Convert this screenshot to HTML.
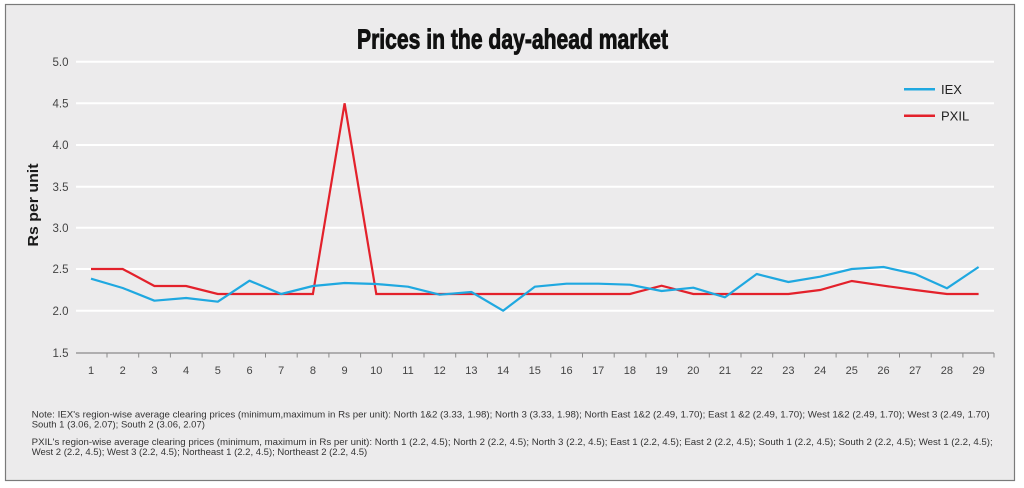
<!DOCTYPE html>
<html><head><meta charset="utf-8"><style>
html,body{margin:0;padding:0;background:#fff;}
svg{display:block;}
</style></head><body>
<svg width="1024" height="488" viewBox="0 0 1024 488" xmlns="http://www.w3.org/2000/svg" font-family="'Liberation Sans', Arial, sans-serif">
<rect x="0" y="0" width="1024" height="488" fill="#ffffff"/>
<rect x="5.5" y="4.5" width="1009" height="476" fill="#ecebec" stroke="#7a7a7a" stroke-width="1.2"/>
<text x="512.5" y="48.3" text-anchor="middle" font-family="'Liberation Sans Narrow','Liberation Sans',sans-serif" font-weight="bold" font-size="28" fill="#111" stroke="#111" stroke-width="0.9" textLength="311" lengthAdjust="spacingAndGlyphs">Prices in the day-ahead market</text>
<g stroke="#ffffff" stroke-width="2">
<line x1="76" y1="61.7" x2="994" y2="61.7"/>
<line x1="76" y1="103.3" x2="994" y2="103.3"/>
<line x1="76" y1="145" x2="994" y2="145"/>
<line x1="76" y1="186.7" x2="994" y2="186.7"/>
<line x1="76" y1="227.8" x2="994" y2="227.8"/>
<line x1="76" y1="269" x2="994" y2="269"/>
<line x1="76" y1="310.7" x2="994" y2="310.7"/>
</g>
<g font-size="11.5" fill="#444" text-anchor="end">
<text x="68.5" y="66">5.0</text>
<text x="68.5" y="107.5">4.5</text>
<text x="68.5" y="149.2">4.0</text>
<text x="68.5" y="190.9">3.5</text>
<text x="68.5" y="232">3.0</text>
<text x="68.5" y="273.2">2.5</text>
<text x="68.5" y="314.9">2.0</text>
<text x="68.5" y="356.9">1.5</text>
</g>
<text transform="translate(37.8,205) rotate(-90)" text-anchor="middle" font-weight="bold" font-size="15" fill="#1a1a1a" textLength="83" lengthAdjust="spacingAndGlyphs">Rs per unit</text>
<line x1="76" y1="353" x2="994" y2="353" stroke="#8a8a8a" stroke-width="1.2"/>
<g stroke="#8a8a8a" stroke-width="1">
<line x1="107" y1="353" x2="107" y2="357.5"/><line x1="138.7" y1="353" x2="138.7" y2="357.5"/><line x1="170.4" y1="353" x2="170.4" y2="357.5"/><line x1="202.1" y1="353" x2="202.1" y2="357.5"/><line x1="233.8" y1="353" x2="233.8" y2="357.5"/><line x1="265.5" y1="353" x2="265.5" y2="357.5"/><line x1="297.2" y1="353" x2="297.2" y2="357.5"/><line x1="328.9" y1="353" x2="328.9" y2="357.5"/><line x1="360.6" y1="353" x2="360.6" y2="357.5"/><line x1="392.3" y1="353" x2="392.3" y2="357.5"/><line x1="424" y1="353" x2="424" y2="357.5"/><line x1="455.7" y1="353" x2="455.7" y2="357.5"/><line x1="487.4" y1="353" x2="487.4" y2="357.5"/><line x1="519.1" y1="353" x2="519.1" y2="357.5"/><line x1="550.8" y1="353" x2="550.8" y2="357.5"/><line x1="582.5" y1="353" x2="582.5" y2="357.5"/><line x1="614.2" y1="353" x2="614.2" y2="357.5"/><line x1="645.9" y1="353" x2="645.9" y2="357.5"/><line x1="677.6" y1="353" x2="677.6" y2="357.5"/><line x1="709.3" y1="353" x2="709.3" y2="357.5"/><line x1="741" y1="353" x2="741" y2="357.5"/><line x1="772.7" y1="353" x2="772.7" y2="357.5"/><line x1="804.4" y1="353" x2="804.4" y2="357.5"/><line x1="836.1" y1="353" x2="836.1" y2="357.5"/><line x1="867.8" y1="353" x2="867.8" y2="357.5"/><line x1="899.5" y1="353" x2="899.5" y2="357.5"/><line x1="931.2" y1="353" x2="931.2" y2="357.5"/><line x1="962.9" y1="353" x2="962.9" y2="357.5"/><line x1="994" y1="353" x2="994" y2="357.5"/>
</g>
<g font-size="11" fill="#444" text-anchor="middle">
<text x="91" y="374">1</text><text x="122.7" y="374">2</text><text x="154.4" y="374">3</text><text x="186.1" y="374">4</text><text x="217.8" y="374">5</text><text x="249.5" y="374">6</text><text x="281.2" y="374">7</text><text x="312.9" y="374">8</text><text x="344.6" y="374">9</text><text x="376.3" y="374">10</text><text x="408" y="374">11</text><text x="439.7" y="374">12</text><text x="471.4" y="374">13</text><text x="503.1" y="374">14</text><text x="534.8" y="374">15</text><text x="566.5" y="374">16</text><text x="598.2" y="374">17</text><text x="629.9" y="374">18</text><text x="661.6" y="374">19</text><text x="693.3" y="374">20</text><text x="725" y="374">21</text><text x="756.7" y="374">22</text><text x="788.4" y="374">23</text><text x="820.1" y="374">24</text><text x="851.8" y="374">25</text><text x="883.5" y="374">26</text><text x="915.2" y="374">27</text><text x="946.9" y="374">28</text><text x="978.6" y="374">29</text>
</g>
<polyline fill="none" stroke="#e3212b" stroke-width="2.2" stroke-linejoin="miter" points="91,269 122.7,269 154.4,286 186.1,286 217.8,294 249.5,294 281.2,294 312.9,294 344.6,103.3 376.3,294 408,294 439.7,294 471.4,294 503.1,294 534.8,294 566.5,294 598.2,294 629.9,294 661.6,285.7 693.3,294 725,294 756.7,294 788.4,294 820.1,290 851.8,281 883.5,285.7 915.2,290 946.9,294 978.6,294"/>
<polyline fill="none" stroke="#1fa8e0" stroke-width="2.2" stroke-linejoin="round" points="91,278.7 122.7,288 154.4,300.7 186.1,298 217.8,301.7 249.5,280.7 281.2,294 312.9,286 344.6,283 376.3,284 408,286.7 439.7,294.7 471.4,292 503.1,310.7 534.8,286.7 566.5,283.7 598.2,283.7 629.9,284.7 661.6,291 693.3,287.7 725,297.3 756.7,274 788.4,282 820.1,276.7 851.8,269 883.5,267 915.2,274 946.9,288.3 978.6,267"/>
<line x1="904" y1="89.3" x2="935" y2="89.3" stroke="#1fa8e0" stroke-width="2.5"/>
<text x="941" y="94" font-size="13" fill="#222">IEX</text>
<line x1="904" y1="115.7" x2="935" y2="115.7" stroke="#e3212b" stroke-width="2.5"/>
<text x="941" y="120.5" font-size="13" fill="#222">PXIL</text>
<g font-size="9.5" fill="#333">
<text x="31.7" y="417.5" textLength="958" lengthAdjust="spacingAndGlyphs">Note: IEX's region-wise average clearing prices (minimum,maximum in Rs per unit):  North 1&amp;2 (3.33, 1.98); North 3 (3.33, 1.98); North East 1&amp;2 (2.49, 1.70); East 1 &amp;2 (2.49, 1.70); West 1&amp;2 (2.49, 1.70); West 3 (2.49, 1.70)</text>
<text x="31.7" y="427.5">South 1 (3.06, 2.07); South 2 (3.06, 2.07)</text>
<text x="31.7" y="445" textLength="961" lengthAdjust="spacingAndGlyphs">PXIL's region-wise average clearing prices (minimum, maximum in Rs per unit):  North 1 (2.2, 4.5); North 2 (2.2, 4.5); North 3 (2.2, 4.5); East 1 (2.2, 4.5); East 2 (2.2, 4.5); South 1 (2.2, 4.5); South 2 (2.2, 4.5); West 1 (2.2, 4.5);</text>
<text x="31.7" y="455">West 2 (2.2, 4.5); West 3 (2.2, 4.5); Northeast 1 (2.2, 4.5); Northeast 2 (2.2, 4.5)</text>
</g>
</svg>
</body></html>
